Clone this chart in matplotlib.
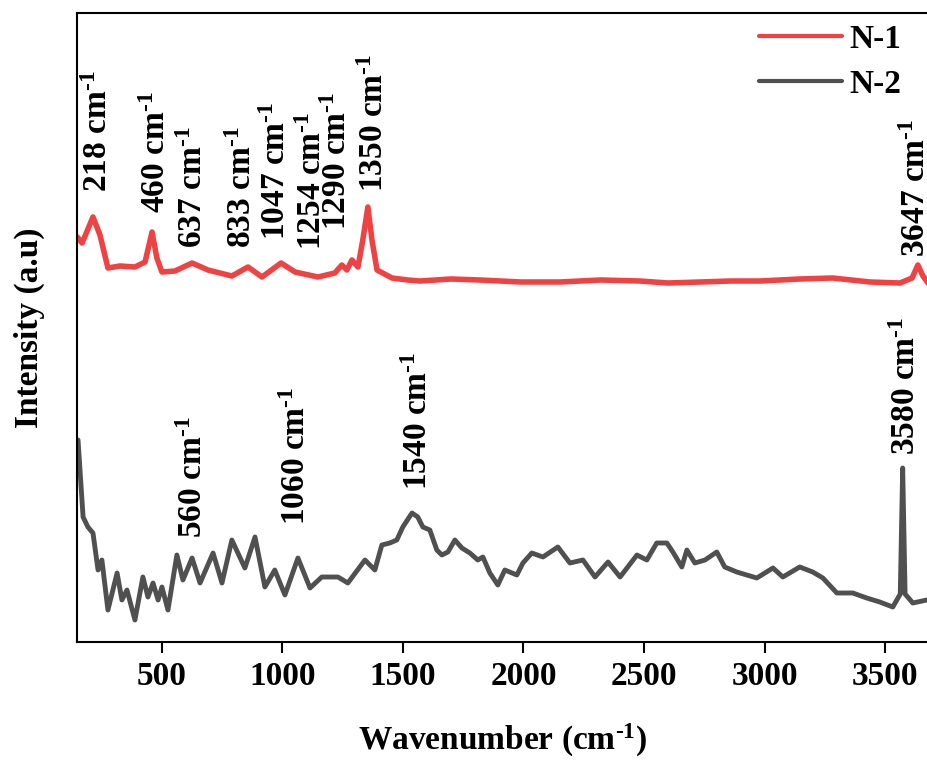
import matplotlib
matplotlib.use("Agg")
import matplotlib.pyplot as plt

# ---------------- data ----------------
n1_wavenumber = [150, 170, 215, 244, 277, 327, 389, 431, 460, 480, 501, 555, 626, 692,
                 791, 858, 916, 995, 1053, 1148, 1218, 1247, 1268, 1289, 1314, 1334,
                 1355, 1372, 1393, 1455, 1520, 1571, 1700, 1820, 1990, 2151, 2320, 2483,
                 2600, 2732, 2860, 2981, 3146, 3283, 3437, 3562, 3612, 3636, 3657, 3678]
n1_intensity = [405, 399, 425, 407, 374, 376, 375, 380, 410, 384, 370, 371, 379, 372,
                366, 375, 365, 379, 370, 365, 369, 377, 372, 382, 375, 402,
                435, 402, 372, 364, 362, 361, 363, 362, 360, 360, 362, 361,
                359, 360, 361, 361, 363, 364, 360, 359, 364, 377, 366, 359]

n2_wavenumber = [153, 174, 194, 215, 236, 252, 277, 315, 335, 356, 389, 422, 443, 464,
                 485, 501, 526, 563, 588, 626, 659, 713, 750, 791, 816, 845, 887, 928,
                 969, 1011, 1065, 1115, 1164, 1231, 1272, 1343, 1384, 1413, 1446, 1475,
                 1500, 1538, 1562, 1583, 1612, 1641, 1662, 1687, 1716, 1745, 1778, 1811,
                 1832, 1861, 1894, 1923, 1973, 1998, 2035, 2081, 2143, 2193, 2247, 2297,
                 2351, 2401, 2471, 2512, 2553, 2595, 2620, 2657, 2678, 2711, 2753, 2802,
                 2835, 2885, 2968, 3035, 3076, 3146, 3200, 3242, 3300, 3366, 3424, 3478,
                 3532, 3563, 3573, 3583, 3615, 3673]
n2_intensity = [202, 125, 115, 109, 72, 82, 32, 69, 42, 52, 22, 65, 45, 59,
                42, 55, 32, 87, 62, 84, 59, 89, 59, 102, 89, 74, 105, 55,
                72, 47, 84, 54, 65, 65, 59, 82, 72, 97, 99, 102,
                115, 129, 125, 115, 112, 92, 87, 90, 102, 94, 89, 82,
                85, 69, 57, 72, 67, 79, 89, 85, 95, 79, 82, 65,
                80, 65, 87, 82, 99, 99, 90, 75, 92, 79, 82, 90,
                75, 70, 64, 74, 65, 75, 70, 64, 49, 49, 44, 40,
                35, 48, 174, 48, 39, 42]

series_names = ["N-1", "N-2"]
series_colors = ["#EF4343", "#505050"]

peak_labels = ["218", "460", "637", "833", "1047", "1254", "1290", "1350", "3647",
               "560", "1060", "1540", "3580"]
# label anchor positions (wavenumber, intensity) for the rotated labels
label_pos = [(236, 450), (480, 429), (630, 394), (837, 394), (978, 402), (1127, 392),
             (1231, 412), (1384, 450), (3631, 385),
             (630, 104), (1061, 117), (1563, 152), (3590, 187)]

x_ticks = [500, 1000, 1500, 2000, 2500, 3000, 3500]

# ---------------- style ----------------
plt.rcParams["font.family"] = ["Liberation Serif", "DejaVu Serif"]
plt.rcParams["font.weight"] = "bold"
plt.rcParams["mathtext.fontset"] = "custom"
plt.rcParams["mathtext.rm"] = "Liberation Serif:bold"
plt.rcParams["mathtext.bf"] = "Liberation Serif:bold"
plt.rcParams["mathtext.it"] = "Liberation Serif:bold"

SUP = "$^{\\text{-1}}$"

W, H = 928, 760
fig = plt.figure(figsize=(W / 100, H / 100), dpi=100)
ax = fig.add_axes([77.3 / W, (H - 642) / H, 1 - 77.3 / W, (642 - 13) / H])

ax.plot(n1_wavenumber, n1_intensity, color=series_colors[0], lw=4.0, label=series_names[0],
        solid_joinstyle="round", solid_capstyle="round")
ax.plot(n2_wavenumber, n2_intensity, color=series_colors[1], lw=3.5, label=series_names[1],
        solid_joinstyle="round", solid_capstyle="round")

ax.set_xlim(150, 3678)
ax.set_ylim(0, 629)
ax.set_xticks(x_ticks)
ax.set_yticks([])
ax.tick_params(axis="x", direction="out", length=8, width=1.5, pad=5.5, labelsize=24)
for lab in ax.get_xticklabels():
    lab.set_fontweight("bold")

for side in ["left", "bottom", "top"]:
    ax.spines[side].set_linewidth(1.5)
ax.spines["right"].set_visible(False)

ax.set_xlabel("Wavenumber (cm" + SUP + ")", fontsize=24, fontweight="bold", labelpad=22)
ax.set_ylabel("Intensity (a.u)", fontsize=24, fontweight="bold", labelpad=23)

for txt, (px, py) in zip(peak_labels, label_pos):
    ax.text(px, py, txt + " cm" + SUP, rotation=90, ha="center", va="bottom",
            fontsize=24, fontweight="bold")

leg = ax.legend(loc="upper left", bbox_to_anchor=(759 / W, (H - 24) / H),
                bbox_transform=fig.transFigure, frameon=False, fontsize=24,
                handlelength=2.5, handletextpad=0.2, labelspacing=0.42,
                borderpad=0, borderaxespad=0)
for t in leg.get_texts():
    t.set_fontweight("bold")
for h in leg.get_lines():
    h.set_linewidth(3.0)

fig.savefig("out.png", dpi=100)
